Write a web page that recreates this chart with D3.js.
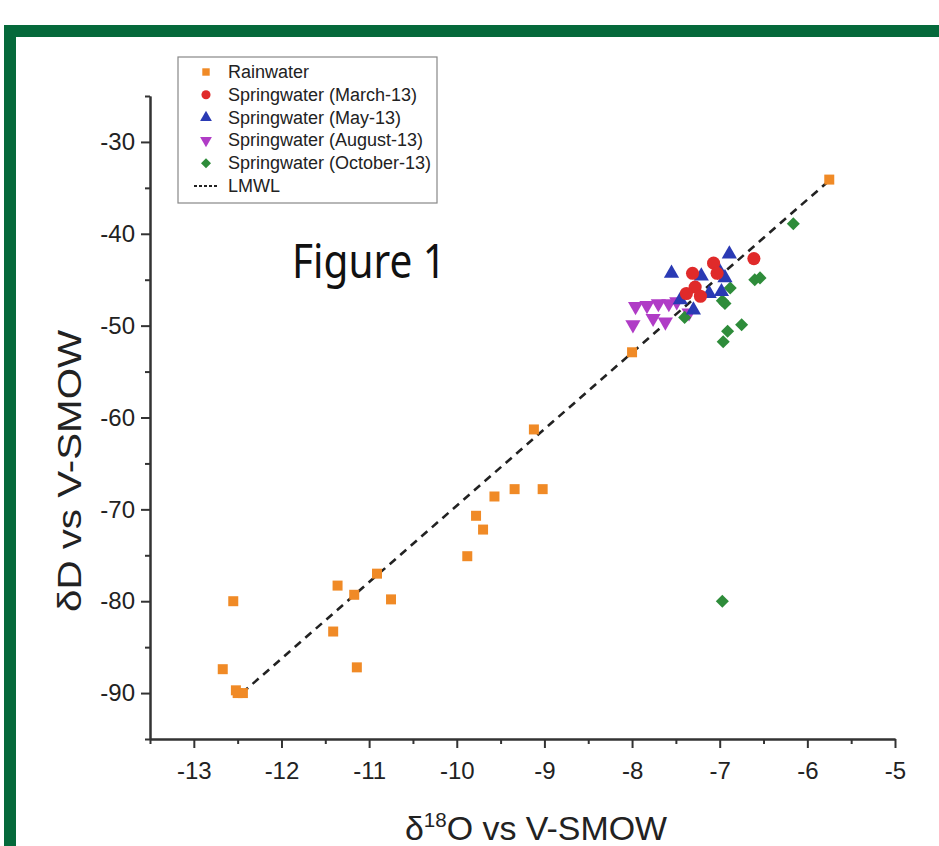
<!DOCTYPE html>
<html><head><meta charset="utf-8">
<script src="https://cdn.jsdelivr.net/npm/d3@7"></script>
<style>html,body{margin:0;padding:0;background:#fff;}svg{display:block;}</style>
</head><body>
<script>
// ---- data ----
const rainX = [-5.75,-8.0,-9.12,-9.34,-9.02,-9.57,-9.78,-9.70,-9.88,-10.91,-11.36,-11.17,-10.75,-12.55,-11.41,-11.14,-12.67,-12.50,-12.44,-12.52];
const rainY = [-34.1,-52.9,-61.3,-67.8,-67.8,-68.6,-70.7,-72.2,-75.1,-77.0,-78.3,-79.3,-79.8,-80.0,-83.3,-87.2,-87.4,-90.0,-90.0,-89.7];
const marchX = [-6.61,-7.07,-7.03,-7.31,-7.28,-7.38,-7.22];
const marchY = [-42.7,-43.2,-44.3,-44.3,-45.8,-46.5,-46.8];
const mayX = [-6.89,-7.55,-7.21,-7.00,-6.98,-7.12,-7.30,-7.45,-6.94];
const mayY = [-42.2,-44.3,-44.6,-44.1,-46.3,-46.5,-48.3,-47.2,-44.8];
const augX = [-7.96,-7.83,-7.70,-7.58,-7.49,-7.76,-7.62,-7.99,-7.35];
const augY = [-47.9,-47.8,-47.6,-47.6,-47.4,-49.2,-49.6,-49.9,-48.6];
const octX = [-6.16,-6.60,-6.54,-6.88,-6.94,-6.97,-7.40,-6.75,-6.91,-6.96,-6.97];
const octY = [-38.9,-45.0,-44.8,-45.9,-47.6,-47.3,-49.1,-49.9,-50.6,-51.75,-80.0];
const lmwlX = [-12.45,-5.75];
const lmwlY = [-90.0,-34.2];
const xMajor = [-13,-12,-11,-10,-9,-8,-7,-6,-5];
const xMinor = [-13.5,-12.5,-11.5,-10.5,-9.5,-8.5,-7.5,-6.5,-5.5];
const yMajor = [-90,-80,-70,-60,-50,-40,-30];
const yMinor = [-95,-85,-75,-65,-55,-45,-35,-25];
const seriesNames = ["Rainwater","Springwater (March-13)","Springwater (May-13)","Springwater (August-13)","Springwater (October-13)","LMWL"];
const colors = ["#F08A26","#E02A2A","#2A3AB4","#B03CC6","#2E8C3A","#222"];

const W = 939, H = 846;
const svg = d3.select("body").append("svg").attr("width", W).attr("height", H);

// green frame
svg.append("rect").attr("x", 4).attr("y", 25).attr("width", W).attr("height", H).attr("fill", "#05693B");
svg.append("rect").attr("x", 16).attr("y", 37).attr("width", W).attr("height", H).attr("fill", "#fff");

const x = d3.scaleLinear().domain([-13.5, -5]).range([150, 895]);
const y = d3.scaleLinear().domain([-95, -25]).range([739, 96]);

const axisColor = "#333";
const font = "'Liberation Sans', Arial, sans-serif";

// axes
const gx = svg.append("g").attr("transform", `translate(0,${y(-95)})`);
gx.call(d3.axisBottom(x).tickValues(xMajor).tickSize(9).tickSizeOuter(0).tickFormat(d => String(d)).tickPadding(14));
const gxm = svg.append("g").attr("transform", `translate(0,${y(-95)})`);
gxm.call(d3.axisBottom(x).tickValues(xMinor).tickSize(5).tickSizeOuter(0).tickFormat(""));
const gy = svg.append("g").attr("transform", `translate(${x(-13.5)},0)`);
gy.call(d3.axisLeft(y).tickValues(yMajor).tickSize(9).tickSizeOuter(0).tickFormat(d => String(d)).tickPadding(6));
const gym = svg.append("g").attr("transform", `translate(${x(-13.5)},0)`);
gym.call(d3.axisLeft(y).tickValues(yMinor).tickSize(5).tickSizeOuter(0).tickFormat(""));
[gx, gxm, gy, gym].forEach(g => {
  g.selectAll("path.domain").attr("stroke", axisColor).attr("stroke-width", 2);
  g.selectAll(".tick line").attr("stroke", axisColor).attr("stroke-width", 2);
  g.selectAll(".tick text").attr("fill", "#222").style("font-family", font).style("font-size", "24px");
});

// axis titles
svg.append("text").attr("x", 536).attr("y", 840).attr("text-anchor", "middle")
  .attr("textLength", 262).attr("lengthAdjust", "spacingAndGlyphs")
  .style("font-family", font).style("font-size", "33px").attr("fill", "#222")
  .call(t => { t.append("tspan").text("δ"); t.append("tspan").attr("dy", -13).style("font-size", "20px").text("18"); t.append("tspan").attr("dy", 13).text("O vs V-SMOW"); });
svg.append("text").attr("transform", "translate(81,471) rotate(-90)").attr("text-anchor", "middle")
  .attr("textLength", 282).attr("lengthAdjust", "spacingAndGlyphs")
  .style("font-family", font).style("font-size", "33px").attr("fill", "#222").text("δD vs V-SMOW");

// Figure 1
svg.append("text").attr("x", 292).attr("y", 278).attr("textLength", 154).attr("lengthAdjust", "spacingAndGlyphs")
  .style("font-family", "'Noto Sans', sans-serif").style("font-size", "48px").attr("fill", "#111").text("Figure 1");

// LMWL line
svg.append("path").datum(d3.zip(lmwlX, lmwlY))
  .attr("d", d3.line().x(d => x(d[0])).y(d => y(d[1])))
  .attr("stroke", "#222").attr("stroke-width", 2.6).attr("stroke-dasharray", "8,6").attr("fill", "none");

// markers
const sq = d3.symbol().type(d3.symbolSquare).size(100)();
const circ = d3.symbol().type(d3.symbolCircle).size(135)();
const tri = d3.symbol().type(d3.symbolTriangle).size(100)();
const dia = d3.symbol().type(d3.symbolSquare).size(85)();
const series = [
  {xs: rainX, ys: rainY, path: sq, rot: 0, c: colors[0]},
  {xs: marchX, ys: marchY, path: circ, rot: 0, c: colors[1]},
  {xs: mayX, ys: mayY, path: tri, rot: 0, c: colors[2]},
  {xs: augX, ys: augY, path: tri, rot: 180, c: colors[3]},
  {xs: octX, ys: octY, path: dia, rot: 45, c: colors[4]},
];
[3, 4, 2, 1, 0].forEach(i => {
  const s = series[i];
  svg.append("g").selectAll("path").data(d3.zip(s.xs, s.ys)).join("path")
    .attr("d", s.path).attr("fill", s.c)
    .attr("transform", d => `translate(${x(d[0])},${y(d[1])}) rotate(${s.rot})`);
});

// legend
const lg = svg.append("g");
lg.append("rect").attr("x", 178).attr("y", 57).attr("width", 259).attr("height", 146)
  .attr("fill", "#fff").attr("stroke", "#888").attr("stroke-width", 1.2);
const legendSyms = [
  {path: d3.symbol().type(d3.symbolSquare).size(55)(), rot: 0},
  {path: d3.symbol().type(d3.symbolCircle).size(65)(), rot: 0},
  {path: d3.symbol().type(d3.symbolTriangle).size(60)(), rot: 0},
  {path: d3.symbol().type(d3.symbolTriangle).size(60)(), rot: 180},
  {path: d3.symbol().type(d3.symbolSquare).size(50)(), rot: 45},
];
seriesNames.forEach((name, i) => {
  const yy = 72 + i * 22.8;
  if (i < 5) {
    lg.append("path").attr("d", legendSyms[i].path).attr("fill", colors[i])
      .attr("transform", `translate(206,${yy}) rotate(${legendSyms[i].rot})`);
  } else {
    lg.append("line").attr("x1", 194).attr("x2", 217).attr("y1", yy).attr("y2", yy)
      .attr("stroke", "#222").attr("stroke-width", 2).attr("stroke-dasharray", "3,2");
  }
  lg.append("text").attr("x", 228).attr("y", yy + 6).text(name)
    .style("font-family", font).style("font-size", "18px").attr("fill", "#222");
});
</script>
</body></html>
